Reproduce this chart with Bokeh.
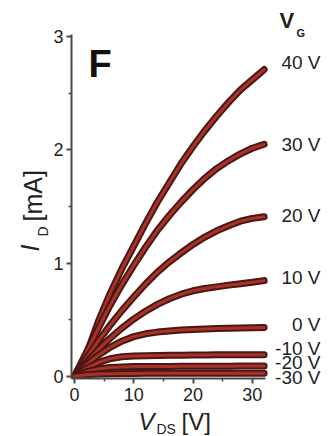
import math
from bokeh.plotting import figure
from bokeh.layouts import row, column
from bokeh.models import FixedTicker, Label
from bokeh.core.properties import value
from bokeh.embed import file_html
from bokeh.resources import INLINE

# ---- data ----
vds = [0, 2, 4, 6, 8, 10, 12, 14, 16, 18, 20, 22, 24, 26, 28, 30, 32]
id_40 = [0, 0.19, 0.48, 0.73, 0.95, 1.15, 1.35, 1.54, 1.71, 1.88, 2.03, 2.17, 2.30, 2.42, 2.53, 2.62, 2.71]
id_30 = [0, 0.21, 0.42, 0.625, 0.81, 0.98, 1.14, 1.29, 1.42, 1.54, 1.65, 1.75, 1.835, 1.905, 1.965, 2.015, 2.05]
id_20 = [0, 0.16, 0.31, 0.45, 0.58, 0.70, 0.815, 0.92, 1.01, 1.09, 1.165, 1.23, 1.285, 1.33, 1.37, 1.395, 1.41]
id_10 = [0, 0.12, 0.235, 0.335, 0.425, 0.505, 0.575, 0.635, 0.685, 0.725, 0.755, 0.775, 0.79, 0.805, 0.818, 0.83, 0.845]
id_0 = [0, 0.10, 0.185, 0.255, 0.31, 0.35, 0.375, 0.39, 0.40, 0.408, 0.414, 0.418, 0.421, 0.424, 0.427, 0.429, 0.43]
id_m10 = [0, 0.07, 0.12, 0.155, 0.172, 0.178, 0.181, 0.183, 0.185, 0.186, 0.187, 0.188, 0.189, 0.19, 0.19, 0.19, 0.19]
id_m20 = [0, 0.04, 0.065, 0.077, 0.082, 0.085, 0.086, 0.087, 0.087, 0.088, 0.088, 0.089, 0.089, 0.089, 0.09, 0.09, 0.09]
id_m30 = [0, 0.014, 0.02, 0.023, 0.025, 0.025, 0.026, 0.026, 0.026, 0.026, 0.027, 0.027, 0.027, 0.027, 0.027, 0.027, 0.027]
curves = [id_40, id_30, id_20, id_10, id_0, id_m10, id_m20, id_m30]
gate_labels = ["40 V", "30 V", "20 V", "10 V", "0 V", "-10 V", "-20 V", "-30 V"]
x_ticks = [0, 10, 20, 30]
x_minor = [5, 15, 25]
y_ticks = [0, 1, 2, 3]
y_minor = [0.5, 1.5, 2.5]

# ---- style / layout ----
label_nudge_px = [7, 0, 1, 3, 3, 6, 4, -4]
FONT = "Liberation Sans"
INK = "#222222"
AX = "#4a4a4a"
PX_X = 5.927      # px per volt
PX_Y = 113.16     # px per mA
LEFT_W = 50       # strip holding the y-axis title
RIGHT_W = 60      # strip holding the gate-voltage labels
MAIN_W, MAIN_H = 218, 408
BOT_H = 436 - MAIN_H
FRAME_L = 21
FRAME_B = 30
frame_w = MAIN_W - FRAME_L
frame_h = MAIN_H - FRAME_B
x0, y0 = -0.5, -0.02
XR = (x0, x0 + frame_w / PX_X)
YR = (y0, y0 + frame_h / PX_Y)

p = figure(width=MAIN_W, height=MAIN_H, x_range=XR, y_range=YR, title=None,
           output_backend="svg", toolbar_location=None,
           min_border_left=FRAME_L, min_border_right=0,
           min_border_top=0, min_border_bottom=FRAME_B)
p.frame_align = False
p.outline_line_color = None
p.grid.visible = False

for ax, t, m, b in ((p.xaxis[0], x_ticks, x_minor, (x0, 32.2)),
                    (p.yaxis[0], y_ticks, y_minor, (y0, 3.02))):
    ax.ticker = FixedTicker(ticks=t, minor_ticks=m)
    ax.bounds = b
    ax.axis_line_color = AX
    ax.axis_line_width = 2
    ax.major_tick_line_color = AX
    ax.major_tick_line_width = 2
    ax.minor_tick_line_color = AX
    ax.minor_tick_line_width = 1.5
    ax.major_tick_in = 0
    ax.major_tick_out = 5
    ax.minor_tick_in = 0
    ax.minor_tick_out = 3
    ax.major_label_text_font = FONT
    ax.major_label_text_font_size = "18px"
    ax.major_label_text_color = INK
    ax.axis_label = None
p.xaxis.major_label_standoff = 4
p.yaxis.major_label_standoff = 3

for ys in curves:
    p.line(vds, ys, line_width=7, line_color="#4a1814", line_join="round", line_cap="round")
    p.line(vds, ys, line_width=3, line_color="#a83228", line_join="round", line_cap="round")

# panel letter (vertical centre of the glyph at canvas y = 63)
p.add_layout(Label(x=x0 + (88 - LEFT_W - FRAME_L) / PX_X, y=y0 + (frame_h - 63) / PX_Y,
                   text="F", text_font=FONT, text_font_size="38px", text_font_style="bold",
                   text_color="#111111", text_baseline="middle"))


def strip(w, h, xr):
    f = figure(width=w, height=h, x_range=xr, y_range=(0, h), title=None,
               output_backend="svg", toolbar_location=None,
               x_axis_location=None, y_axis_location=None, min_border=0)
    f.frame_align = False
    f.outline_line_color = None
    f.grid.visible = False
    return f


# right strip: V_G header and gate labels next to curve ends
rgt = strip(RIGHT_W, MAIN_H, (LEFT_W + MAIN_W, LEFT_W + MAIN_W + RIGHT_W))
lab_y = [MAIN_H - (YR[1] - ys[-1]) * PX_Y + n for ys, n in zip(curves, label_nudge_px)]
rgt.text(x=[320] * len(gate_labels), y=lab_y, text=gate_labels, text_align="right",
         text_baseline="middle", text_font=value(FONT), text_font_size="19px", text_color=INK)
rgt.text(x=[279], y=[MAIN_H - 20], text=["V"], text_font=value(FONT), text_font_size="22px",
         text_font_style="bold", text_color=INK, text_baseline="middle")
rgt.text(x=[296], y=[MAIN_H - 32], text=["G"], text_font=value(FONT), text_font_size="11px",
         text_font_style="bold", text_color=INK, text_baseline="middle")

# left strip: y-axis title I_D [mA] (rotated)
lft = strip(LEFT_W, 436, (0, LEFT_W))
lft.text(x=[29], y=[436 - 251], text=["I"], angle=math.pi / 2, text_font=value(FONT),
         text_font_size="25px", text_font_style="italic", text_color=INK,
         text_baseline="middle")
lft.text(x=[42], y=[436 - 236], text=["D"], angle=math.pi / 2, text_font=value(FONT),
         text_font_size="14px", text_color=INK, text_baseline="middle")
lft.text(x=[32], y=[436 - 221], text=["[mA]"], angle=math.pi / 2, text_font=value(FONT),
         text_font_size="25px", text_color=INK, text_baseline="middle")

# bottom strip: x-axis title V_DS [V]
bot = strip(MAIN_W + RIGHT_W, BOT_H, (LEFT_W, LEFT_W + MAIN_W + RIGHT_W))
bot.text(x=[138], y=[436 - 421], text=["V"], text_font=value(FONT), text_font_size="24px",
         text_font_style="italic", text_color=INK, text_baseline="middle")
bot.text(x=[156], y=[436 - 428], text=["DS"], text_font=value(FONT), text_font_size="14px",
         text_color=INK, text_baseline="middle")
bot.text(x=[181], y=[436 - 421], text=["[V]"], text_font=value(FONT), text_font_size="24px",
         text_color=INK, text_baseline="middle")

layout = row(lft, column(row(p, rgt, spacing=0), bot, spacing=0), spacing=0)
open("out.html", "w").write(file_html(layout, INLINE))
